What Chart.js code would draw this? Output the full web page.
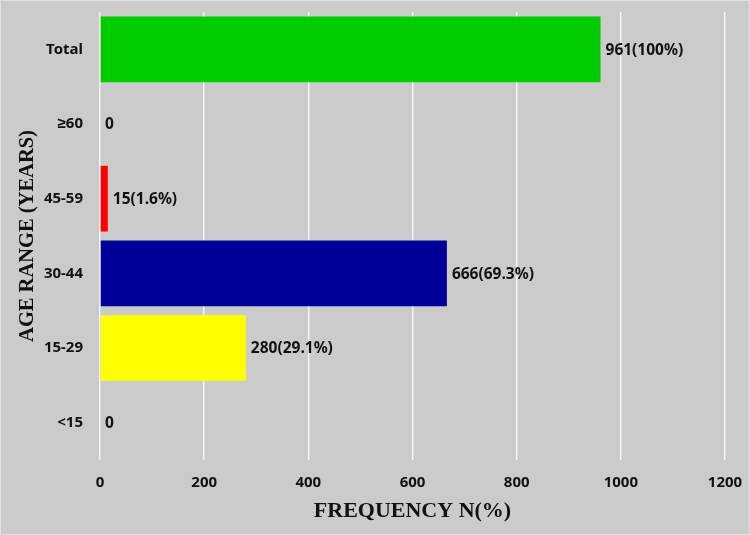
<!DOCTYPE html>
<html>
<head>
<meta charset="utf-8">
<script src="https://cdn.jsdelivr.net/npm/chart.js@4"></script>
<style>
  html, body { margin: 0; padding: 0; background: #cbcbcb; }
  #wrap { width: 748px; height: 533px; border: 1px solid #e2e2e2; }
</style>
</head>
<body>
<div id="wrap"><canvas id="myChart" width="748" height="533"></canvas></div>
<script>
// values, top to bottom
const ageRanges = ["Total", "≥60", "45-59", "30-44", "15-29", "<15"];
const frequency = [961, 0, 15, 666, 280, 0];
const valueLabels = ["961(100%)", "0", "15(1.6%)", "666(69.3%)", "280(29.1%)", "0"];
const barColors = ["#00cc00", "#cbcbcb", "#ff0000", "#000099", "#ffff00", "#cbcbcb"];
const xTicks = [0, 200, 400, 600, 800, 1000, 1200];

const ctx = document.querySelector("#myChart").getContext('2d');

// draw "n(%)" next to the bar end
const barLabels = {
  id: 'barLabels',
  afterDatasetsDraw(chart) {
    const c = chart.ctx;
    const meta = chart.getDatasetMeta(0);
    c.save();
    c.font = "bold 15.5px 'Noto Sans', sans-serif";
    c.fillStyle = "#111";
    c.textAlign = "left";
    c.textBaseline = "middle";
    meta.data.forEach((bar, i) => {
      c.fillText(valueLabels[i], bar.x + 5, bar.y + 1);
    });
    c.restore();
  }
};

// no extra room for tick labels, the layout padding does it
function noScalePadding(s) {
  s.paddingTop = 0;
  s.paddingBottom = 0;
  s.paddingLeft = 0;
  s.paddingRight = 0;
}

const config = {
  type: 'bar',
  data: {
    labels: ageRanges,
    datasets: [{
      data: frequency,
      backgroundColor: barColors,
      borderWidth: 0,
      barPercentage: 0.88,
      categoryPercentage: 1
    }]
  },
  options: {
    indexAxis: 'y',
    responsive: false,
    animation: false,
    layout: { padding: { top: 11, right: 24, left: 0, bottom: 0 } },
    plugins: {
      legend: { display: false },
      tooltip: { enabled: false }
    },
    scales: {
      x: {
        min: 0,
        max: 1200,
        afterBuildTicks: s => { s.ticks = xTicks.map(v => ({ value: v })); },
        afterFit: s => { s.height = 74; noScalePadding(s); },
        border: { display: false },
        grid: { color: "#f4f4f4", lineWidth: 1.5, drawTicks: false },
        ticks: {
          padding: 14,
          color: "#111",
          callback: v => String(v),
          font: { family: "'Noto Sans', sans-serif", size: 15, weight: 'bold' }
        },
        title: {
          display: true,
          text: "FREQUENCY N(%)",
          color: "#111",
          padding: { top: 0, bottom: 9 },
          font: { family: "'Liberation Serif', serif", size: 22, weight: 'bold' }
        }
      },
      y: {
        afterFit: s => { s.width = 99; noScalePadding(s); },
        border: { display: false },
        grid: { display: false, drawTicks: false },
        ticks: {
          padding: 17,
          color: "#111",
          font: { family: "'Noto Sans', sans-serif", size: 15, weight: 'bold' }
        },
        title: {
          display: true,
          text: "AGE RANGE (YEARS)",
          color: "#111",
          padding: { top: 14, bottom: 0 },
          font: { family: "'Liberation Serif', serif", size: 20.5, weight: 'bold' }
        }
      }
    }
  },
  plugins: [barLabels]
};

let chart = new Chart(ctx, config);
</script>
</body>
</html>
